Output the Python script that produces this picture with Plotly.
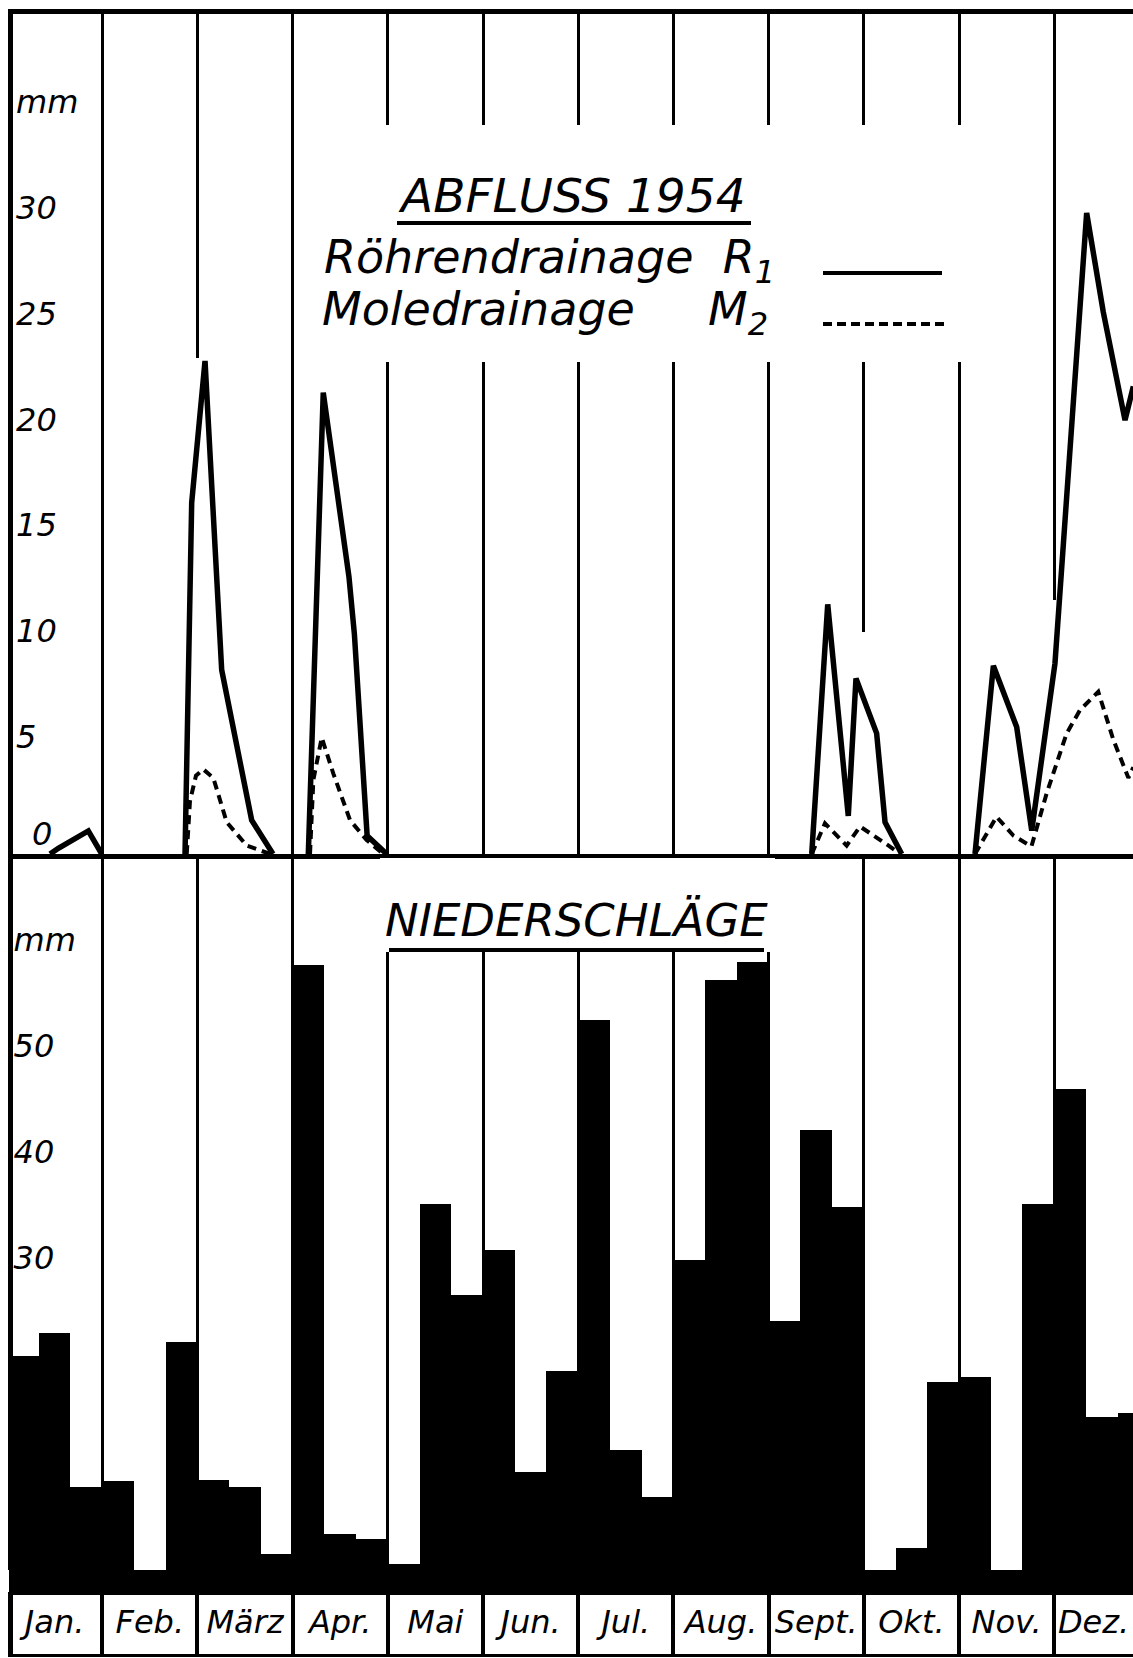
import plotly.graph_objects as go

W, H = 1133, 1658
FONT = "DejaVu Sans"

# ---------------- data ----------------
months = ["Jan.", "Feb.", "März", "Apr.", "Mai", "Jun.", "Jul.", "Aug.",
          "Sept.", "Okt.", "Nov.", "Dez."]

# Niederschläge per decade (10-day period), mm
precip_mm = [20.2, 22.4, 7.8,    # Jan
             8.4, 0.0, 21.5,     # Feb
             8.5, 7.8, 1.5,      # März
             57.1, 3.4, 2.9,     # Apr
             0.6, 34.5, 25.9,    # Mai
             30.2, 9.2, 18.8,    # Jun
             51.9, 11.3, 6.9,    # Jul
             29.2, 55.7, 57.4,   # Aug
             23.5, 41.5, 34.2,   # Sept
             0.0, 2.1, 17.7,     # Okt
             18.2, 0.0, 34.5,    # Nov
             45.4, 14.4, 14.8]   # Dez

# Abfluss, Röhrendrainage R1 (x in months from 1 Jan, y in mm)
r1_x = [0.452, 0.539, 0.854, 0.995, None,
        1.870, 1.940, 2.080, 2.255, 2.570, 2.794, None,
        3.165, 3.322, 3.592, 3.649, 3.783, 3.988, None,
        8.453, 8.621, 8.837, 8.918, 9.135, 9.223, 9.398, None,
        10.168, 10.361, 10.606, 10.764, 11.008, 11.341, 11.516, 11.744, 11.831]
r1_y = [0, 0.27, 1.09, 0, None,
        0, 16.6, 23.3, 8.7, 1.6, 0, None,
        0, 21.8, 13.1, 10.4, 0.86, 0, None,
        0, 11.8, 1.8, 8.3, 5.7, 1.5, 0, None,
        0, 8.9, 6.0, 1.1, 9.0, 30.3, 25.6, 20.5, 22.1]

# Abfluss, Moledrainage M2
m2_x = [1.888, 1.922, 1.985, 2.062, 2.167, 2.308, 2.518, 2.763, None,
        3.183, 3.218, 3.306, 3.428, 3.603, 3.778, 3.953, None,
        8.453, 8.592, 8.820, 8.960, 9.275, 9.380, None,
        10.168, 10.394, 10.573, 10.761, 10.921, 11.131, 11.271, 11.463,
        11.621, 11.779, 11.831]
m2_y = [0, 2.5, 3.7, 4.0, 3.6, 1.5, 0.4, 0, None,
        0, 3.5, 5.5, 3.8, 1.6, 0.66, 0, None,
        0, 1.45, 0.4, 1.3, 0.35, 0, None,
        0, 1.76, 0.86, 0.36, 2.87, 5.7, 6.8, 7.67,
        5.4, 3.6, 4.1]

abfluss_ticks = [5, 10, 15, 20, 25, 30, 35]
abfluss_ticktext = ["5", "10", "15", "20", "25", "30", "mm"]
abfluss_zero_tick = [0]
abfluss_zero_text = ["0"]
nieder_ticks = [30, 40, 50, 60]
nieder_ticktext = ["30", "40", "50", "mm"]

# ---------------- geometry helpers (layout only) ----------------
def m_of(px):          # pixel x -> month units
    return (px - 7) / 95.2

def fx(px):
    return px / W

def fy(py):
    return 1 - py / H

TOP0, TOP1 = 14, 854       # top panel pixel rows
BOT1 = 1570                # zero line of bottom panel
LAB0, LAB1 = 1595, 1654    # label row
XL = 13
top_scale = 21.16
bot_scale = 10.6

xr = [m_of(XL), m_of(W)]
top_range = [0, (TOP1 - TOP0) / top_scale]
bar_x = [i / 3 + 1 / 6 for i in range(len(precip_mm))]
label_x = [min(i + 0.5, (i + xr[1]) / 2) for i in range(len(months))]

fig = go.Figure()

fig.add_trace(go.Scatter(x=r1_x, y=r1_y, mode="lines", xaxis="x", yaxis="y",
                         line=dict(color="black", width=5.5), connectgaps=False,
                         hoverinfo="skip"))
fig.add_trace(go.Scatter(x=m2_x, y=m2_y, mode="lines", xaxis="x", yaxis="y",
                         line=dict(color="black", width=4, dash="9px,6px"),
                         connectgaps=False, hoverinfo="skip"))
fig.add_trace(go.Bar(x=bar_x, y=precip_mm, width=1 / 3, xaxis="x2", yaxis="y2",
                     marker=dict(color="black", line=dict(width=0)),
                     hoverinfo="skip"))
fig.add_trace(go.Scatter(x=label_x, y=[0.5] * len(months), mode="text",
                         text=months, xaxis="x3", yaxis="y3",
                         textfont=dict(family=FONT, size=32, color="black",
                                       style="italic"),
                         hoverinfo="skip"))
# invisible helper trace so the overlay axis for the "0" label is drawn
fig.add_trace(go.Scatter(x=[None], y=[None], xaxis="x", yaxis="y4",
                         mode="lines", hoverinfo="skip"))

grid_common = dict(range=xr, domain=[fx(XL), 1], tickvals=list(range(1, 12)),
                   showgrid=True, gridcolor="black", gridwidth=2.5,
                   showticklabels=False, ticks="", zeroline=False,
                   fixedrange=True)

tickfont = dict(family=FONT, size=32, color="black", style="italic")

fig.update_layout(
    width=W, height=H, margin=dict(l=0, r=0, t=0, b=0),
    paper_bgcolor="white", plot_bgcolor="white", showlegend=False,
    bargap=0,
    xaxis=dict(**grid_common, anchor="y", showline=True, linecolor="black",
               linewidth=5, mirror=True),
    yaxis=dict(domain=[fy(TOP1), fy(TOP0)], range=top_range, anchor="x",
               tickvals=abfluss_ticks, ticktext=abfluss_ticktext,
               ticklabelposition="inside top", ticks="", tickfont=tickfont,
               ticklabelstandoff=4, ticklabelshift=11,
               showgrid=False, zeroline=False, showline=True,
               linecolor="black", linewidth=5, fixedrange=True),
    yaxis4=dict(overlaying="y", range=top_range, anchor="x", side="left",
                tickvals=abfluss_zero_tick, ticktext=abfluss_zero_text,
                ticklabelposition="inside top", ticks="", tickfont=tickfont,
                ticklabelstandoff=16, ticklabelshift=2,
                showgrid=False, zeroline=False, showline=False,
                fixedrange=True),
    xaxis2=dict(**grid_common, anchor="y2", showline=False),
    yaxis2=dict(domain=[fy(BOT1), fy(TOP1)],
                range=[0, (BOT1 - TOP1) / bot_scale], anchor="x2",
                tickvals=nieder_ticks, ticktext=nieder_ticktext,
                ticklabelposition="inside", ticks="", tickfont=tickfont,
                ticklabelstandoff=4, ticklabelshift=6,
                showgrid=False, zeroline=False, showline=True,
                linecolor="black", linewidth=5, fixedrange=True),
    xaxis3=dict(range=xr, domain=[fx(XL), 1], tickvals=list(range(1, 12)),
                showgrid=True, gridcolor="black", gridwidth=3.5,
                showticklabels=False, ticks="", zeroline=False,
                anchor="y3", showline=True, linecolor="black", linewidth=3,
                mirror=True, fixedrange=True),
    yaxis3=dict(domain=[fy(LAB1), fy(LAB0)], range=[0, 1], anchor="x3",
                showticklabels=False, ticks="", showgrid=False, zeroline=False,
                showline=True, linecolor="black", linewidth=5, fixedrange=True),
)

shapes = []
def vt(p):
    return (TOP1 - p) / top_scale
def vb(p):
    return (BOT1 - p) / bot_scale

# white patches that interrupt grid lines (title areas, above curves)
for (x0, x1, y0, y1) in [(m_of(340), m_of(1045), vt(362), vt(125)),
                         (1.95, 2.05, 0, vt(358)),
                         (8.95, 9.05, 0, vt(632)),
                         (10.95, 11.05, 0, vt(600))]:
    shapes.append(dict(type="rect", xref="x", yref="y", x0=x0, x1=x1,
                       y0=y0, y1=y1, fillcolor="white", line=dict(width=0),
                       layer="between"))
shapes.append(dict(type="rect", xref="x2", yref="y2", x0=m_of(380),
                   x1=m_of(775), y0=vb(952), y1=vb(858), fillcolor="white",
                   line=dict(width=0), layer="between"))

# thick black base strip under the bars
shapes.append(dict(type="rect", xref="paper", yref="paper", x0=fx(9), x1=1,
                   y0=fy(LAB0), y1=fy(BOT1), fillcolor="black",
                   line=dict(width=0), layer="above"))

# title underlines
shapes.append(dict(type="line", xref="paper", yref="paper", x0=fx(397),
                   x1=fx(751), y0=fy(223), y1=fy(223),
                   line=dict(color="black", width=4)))
shapes.append(dict(type="line", xref="paper", yref="paper", x0=fx(389),
                   x1=fx(764), y0=fy(950), y1=fy(950),
                   line=dict(color="black", width=4)))
# legend samples
shapes.append(dict(type="line", xref="paper", yref="paper", x0=fx(823),
                   x1=fx(942), y0=fy(273), y1=fy(273),
                   line=dict(color="black", width=4)))
shapes.append(dict(type="line", xref="paper", yref="paper", x0=fx(823),
                   x1=fx(947), y0=fy(324), y1=fy(324),
                   line=dict(color="black", width=4, dash="9px,5px")))
fig.update_layout(shapes=shapes)

def ann(text, x, y, size, xanchor="center"):
    return dict(text=text, x=fx(x), y=fy(y), xref="paper", yref="paper",
                xanchor=xanchor, yanchor="middle", showarrow=False,
                font=dict(family=FONT, size=size, color="black",
                          style="italic"))

fig.update_layout(annotations=[
    ann("ABFLUSS 1954", 572, 196, 47),
    ann("Röhrendrainage  R<sub>1</sub>", 322, 260, 46, "left"),
    ann("Moledrainage     M<sub>2</sub>", 320, 313, 46, "left"),
    ann("NIEDERSCHLÄGE", 577, 920, 45),
])

fig.write_html(
    "out.html",
    config={"displayModeBar": False},
    post_script="document.documentElement.style.margin='0';"
                "document.body.style.margin='0';"
                "document.body.style.overflow='hidden';",
)
